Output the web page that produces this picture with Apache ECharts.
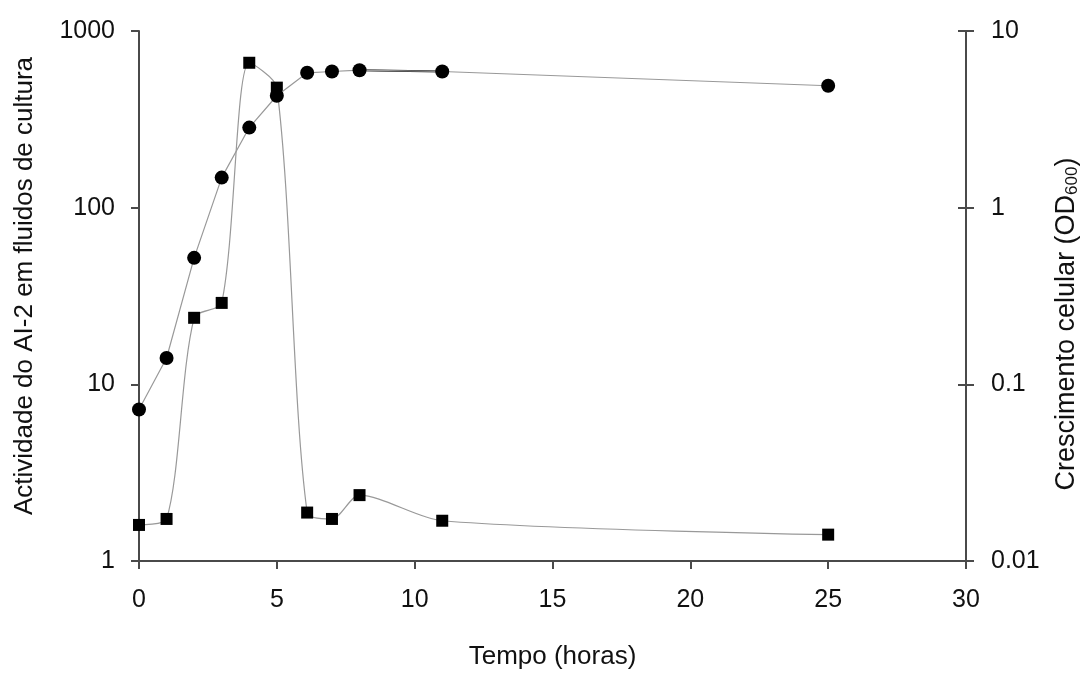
<!DOCTYPE html>
<html>
<head>
<meta charset="utf-8">
<script src="https://cdn.jsdelivr.net/npm/echarts@6/dist/echarts.min.js"></script>
<style>
    html, body { margin: 0; padding: 0; background: #fff; }
    #chart { width: 1089px; height: 675px; }
</style>
</head>
<body>
<div id="chart"></div>
<script>
// tempo (horas)
var tempo = [0, 1, 2, 3, 4, 5, 6.1, 7, 8, 11, 25];
// actividade do AI-2 (quadrados, eixo esquerdo)
var actividade = [1.6, 1.73, 23.8, 28.9, 661, 478, 1.88, 1.73, 2.36, 1.69, 1.41];
// crescimento celular OD600 (circulos, eixo direito)
var crescimento = [0.072, 0.141, 0.52, 1.48, 2.84, 4.3, 5.8, 5.9, 6.0, 5.9, 4.9];

var font = 'Liberation Sans, Arial, sans-serif';
var eixo = '#4a4a4a';

function pares(xs, ys) {
    var out = [];
    for (var i = 0; i < xs.length; i++) {
        out.push([xs[i], ys[i]]);
    }
    return out;
}

function fmt(v) {
    return String(+(+v).toPrecision(6));
}

// troco escuro da curva de crescimento entre 8 e 11 h
var trocoEscuro = pares(tempo, crescimento).filter(function (p) {
    return p[0] >= 8 && p[0] <= 11;
});

var mychart = echarts.init(document.getElementById('chart'));
var option = {
    backgroundColor: '#fff',
    animation: false,
    grid: { left: 139, right: 117, top: 31, bottom: 112 },
    xAxis: {
        type: 'value',
        min: 0,
        max: 30,
        interval: 5,
        name: 'Tempo (horas)',
        nameLocation: 'middle',
        nameGap: 83,
        nameTextStyle: { fontFamily: font, fontSize: 26, color: '#111' },
        axisLine: { show: true, lineStyle: { color: eixo, width: 2 } },
        axisTick: { show: true, length: 8, lineStyle: { color: eixo, width: 2 } },
        axisLabel: { margin: 27, fontFamily: font, fontSize: 25, color: '#111' },
        splitLine: { show: false }
    },
    yAxis: [{
        type: 'log',
        logBase: 10,
        min: 1,
        max: 1000,
        position: 'left',
        name: 'Actividade do AI-2 em fluidos de cultura',
        nameLocation: 'middle',
        nameRotate: 90,
        nameGap: 101,
        nameTextStyle: { fontFamily: font, fontSize: 26, color: '#111', padding: [0, 0, 0, 20] },
        axisLine: { show: true, lineStyle: { color: eixo, width: 2 } },
        axisTick: { show: true, length: 8, lineStyle: { color: eixo, width: 2 } },
        axisLabel: { margin: 24, fontFamily: font, fontSize: 25, color: '#111', formatter: fmt },
        splitLine: { show: false },
        minorTick: { show: false }
    }, {
        type: 'log',
        logBase: 10,
        min: 0.01,
        max: 10,
        position: 'right',
        name: '{a|Crescimento celular (OD}{s|600}{a|)}',
        nameLocation: 'middle',
        nameRotate: 90,
        nameGap: 86,
        nameTextStyle: {
            padding: [0, 56, 0, 0],
            rich: {
                a: { fontFamily: font, fontSize: 27, color: '#111' },
                s: { fontFamily: font, fontSize: 17, color: '#111', padding: [12, 0, 0, 0] }
            }
        },
        axisLine: { show: true, lineStyle: { color: eixo, width: 2 } },
        axisTick: { show: true, length: 8, lineStyle: { color: eixo, width: 2 } },
        axisLabel: { margin: 25, fontFamily: font, fontSize: 25, color: '#111', formatter: fmt },
        splitLine: { show: false }
    }, {
        // marcas interiores do eixo direito (cruzam o eixo)
        type: 'log',
        logBase: 10,
        min: 0.01,
        max: 10,
        position: 'right',
        axisLine: { show: false },
        axisTick: { show: true, inside: true, length: 8, lineStyle: { color: eixo, width: 2 } },
        axisLabel: { show: false },
        splitLine: { show: false }
    }],
    series: [{
        name: 'AI-2',
        type: 'line',
        yAxisIndex: 0,
        data: pares(tempo, actividade),
        smooth: 0.28,
        symbol: 'rect',
        symbolSize: 12,
        itemStyle: { color: '#000' },
        lineStyle: { color: '#999', width: 1.2 },
        z: 3
    }, {
        name: 'OD600',
        type: 'line',
        yAxisIndex: 1,
        data: pares(tempo, crescimento),
        smooth: false,
        symbol: 'circle',
        symbolSize: 14,
        itemStyle: { color: '#000' },
        lineStyle: { color: '#999', width: 1.2 },
        z: 4
    }, {
        name: 'OD600 troco',
        type: 'line',
        yAxisIndex: 1,
        data: trocoEscuro,
        symbol: 'none',
        lineStyle: { color: '#111', width: 2 },
        z: 2
    }]
};

mychart.setOption(option);
</script>
</body>
</html>
